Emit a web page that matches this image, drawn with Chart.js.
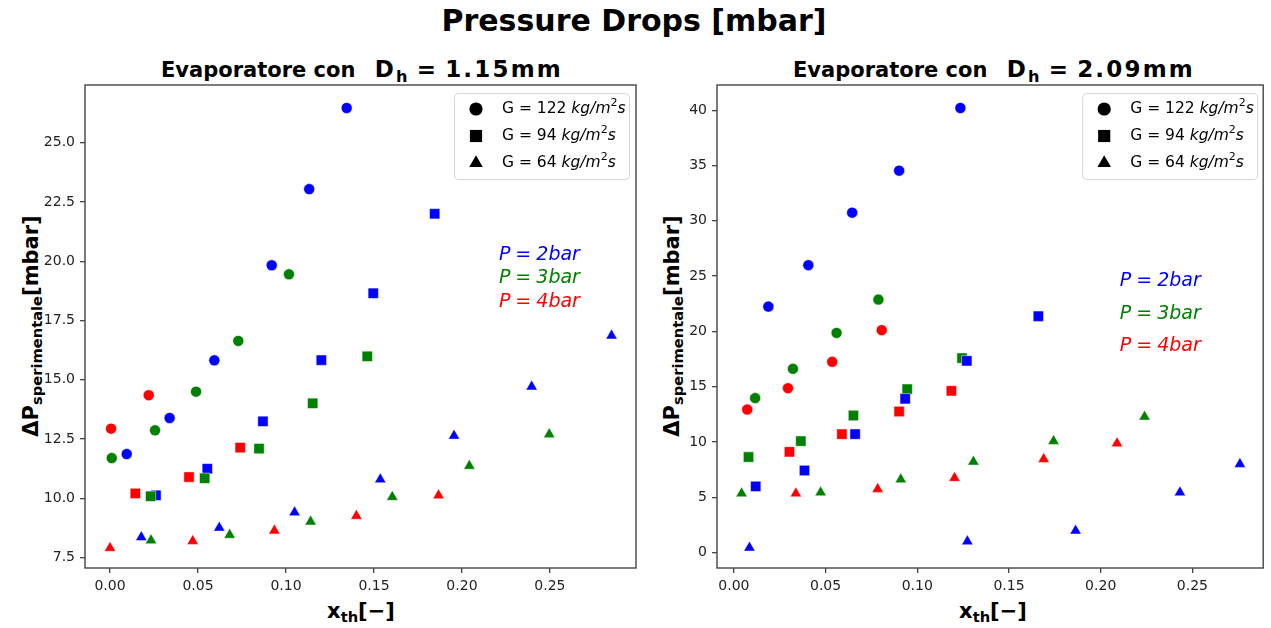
<!DOCTYPE html>
<html>
<head>
<meta charset="utf-8">
<script src="https://cdn.jsdelivr.net/npm/chart.js@4.4.1/dist/chart.umd.min.js"></script>
<style>
  html, body { margin: 0; padding: 0; background: #fff; }
  body { width: 1271px; height: 628px; position: relative; overflow: hidden;
         font-family: "DejaVu Sans", sans-serif; color: #000; }
  .txt { position: absolute; white-space: nowrap; line-height: 1; font-weight: bold;
         transform: translate(-50%, -50%); }
  .rot { transform: translate(-50%, -50%) rotate(-90deg); }
  .sb { font-size: 0.7em; position: relative; top: 0.28em; }
  .box { position: absolute; top: 0; height: 628px; }
  #suptitle { font-size: 30px; left: 634px; top: 21px; }
  .subtitle { font-size: 21px; top: 69px; }
  .math { font-size: 23px; letter-spacing: 2.2px; margin-left: 12px; }
  .eq { margin: 0 7px; }
  .axlabel { font-size: 21px; }
</style>
</head>
<body>
<div id="suptitle" class="txt">Pressure Drops [mbar]</div>
<div class="txt subtitle" style="left:362px">Evaporatore con <span class="math">D<span class="sb">h</span><span class="eq">=</span>1.15mm</span></div>
<div class="txt subtitle" style="left:994px">Evaporatore con <span class="math">D<span class="sb">h</span><span class="eq">=</span>2.09mm</span></div>
<div class="txt axlabel" style="left:361px;top:611px">x<span class="sb">th</span>[−]</div>
<div class="txt axlabel" style="left:993px;top:611px">x<span class="sb">th</span>[−]</div>
<div class="txt axlabel rot" style="left:31px;top:326px">ΔP<span class="sb">sperimentale</span>[mbar]</div>
<div class="txt axlabel rot" style="left:672px;top:326px">ΔP<span class="sb">sperimentale</span>[mbar]</div>

<div class="box" style="left:0;width:650px"><canvas id="left" width="650" height="628"></canvas></div>
<div class="box" style="left:650px;width:621px"><canvas id="right" width="621" height="628"></canvas></div>

<script>
// Pressure levels and mass fluxes
const pressures = [2, 3, 4];              // bar
const pressureColors = ['#0000ff', '#008000', '#ff0000'];
const massFluxes = [122, 94, 64];         // kg/m^2 s
const markerStyles = ['circle', 'rect', 'triangle'];
const markerRadius = [5.5, 7.3, 6.6];
const legendMarkerRadius = [6.6, 8.6, 7.8];

// Tick labels
const xTicks = [0, 0.05, 0.10, 0.15, 0.20, 0.25];
const yTicksA = [7.5, 10, 12.5, 15, 17.5, 20, 22.5, 25];
const yTicksB = [0, 5, 10, 15, 20, 25, 30, 35, 40];

// Evaporatore Dh = 1.15 mm : [x_th, dP mbar]
const a_p2_g122 = [[0.0095,11.87],[0.0339,13.39],[0.0593,15.82],[0.0919,19.83],[0.1132,23.04],[0.1345,26.46]];
const a_p3_g122 = [[0.0010,11.70],[0.0256,12.87],[0.0489,14.50],[0.0729,16.64],[0.1017,19.45]];
const a_p4_g122 = [[0.0006,12.94],[0.0220,14.35]];
const a_p2_g94  = [[0.0261,10.13],[0.0553,11.25],[0.0869,13.25],[0.1201,15.83],[0.1496,18.65],[0.1845,22.00]];
const a_p3_g94  = [[0.0231,10.09],[0.0538,10.85],[0.0847,12.10],[0.1152,14.01],[0.1462,15.99]];
const a_p4_g94  = [[0.0144,10.21],[0.0449,10.90],[0.0740,12.14]];
const a_p2_g64  = [[0.0178,8.36],[0.0621,8.76],[0.1049,9.41],[0.1536,10.80],[0.1955,12.64],[0.2396,14.71],[0.2850,16.86]];
const a_p3_g64  = [[0.0233,8.23],[0.0680,8.46],[0.1140,9.02],[0.1604,10.06],[0.2042,11.37],[0.2496,12.70]];
const a_p4_g64  = [[0.0000,7.91],[0.0470,8.20],[0.0934,8.64],[0.1400,9.26],[0.1867,10.13]];

// Evaporatore Dh = 2.09 mm : [x_th, dP mbar]
const b_p2_g122 = [[0.0188,22.24],[0.0406,25.99],[0.0645,30.74],[0.0901,34.54],[0.1235,40.21]];
const b_p3_g122 = [[0.0116,13.96],[0.0322,16.61],[0.0560,19.86],[0.0788,22.88]];
const b_p4_g122 = [[0.0073,12.93],[0.0295,14.86],[0.0536,17.24],[0.0806,20.11]];
const b_p2_g94  = [[0.0119,5.97],[0.0385,7.41],[0.0661,10.70],[0.0934,13.90],[0.1270,17.33],[0.1660,21.37]];
const b_p3_g94  = [[0.0080,8.63],[0.0365,10.07],[0.0652,12.39],[0.0945,14.77],[0.1244,17.58]];
const b_p4_g94  = [[0.0303,9.10],[0.0589,10.70],[0.0901,12.75],[0.1186,14.62]];
const b_p2_g64  = [[0.0085,0.42],[0.1273,0.99],[0.1863,1.96],[0.2432,5.42],[0.2759,7.99]];
const b_p3_g64  = [[0.0042,5.33],[0.0473,5.42],[0.0910,6.60],[0.1306,8.20],[0.1743,10.07],[0.2239,12.27]];
const b_p4_g64  = [[0.0338,5.33],[0.0784,5.73],[0.1203,6.73],[0.1689,8.44],[0.2089,9.86]];

const FONT = '"DejaVu Sans", sans-serif';

// series grid: rows = pressure, columns = mass flux
function buildDatasets(grid, pressureOrder) {
  const out = [];
  grid.forEach((row, pi) => {
    row.forEach((pts, gi) => {
      out.push({
        label: 'P=' + pressures[pi] + ' G=' + massFluxes[gi],
        data: pts.map(p => ({ x: p[0], y: p[1] })),
        pointStyle: markerStyles[gi],
        pointRadius: markerRadius[gi],
        backgroundColor: pressureColors[pi],
        borderColor: '#ffffff',
        borderWidth: 0.5,
        showLine: false,
        order: pressureOrder[pi]
      });
    });
  });
  return out;
}

function drawRuns(ctx, runs, x, y) {
  let cx = x;
  for (const r of runs) {
    ctx.font = r.font;
    cx += r.pre || 0;
    ctx.fillText(r.text, cx, y + (r.dy || 0));
    cx += ctx.measureText(r.text).width + (r.post || 0);
  }
}

// Axes frame (all four spines)
const framePlugin = {
  id: 'frame',
  afterDatasetsDraw(chart) {
    const { ctx, chartArea: a } = chart;
    ctx.save();
    ctx.strokeStyle = '#444';
    ctx.lineWidth = 1.4;
    ctx.strokeRect(a.left, a.top, a.right - a.left, a.bottom - a.top);
    ctx.restore();
  }
};

// Marker legend for the mass fluxes
const gLegendPlugin = {
  id: 'gLegend',
  afterDraw(chart, args, opts) {
    const { ctx, chartArea: a } = chart;
    const w = 175, h = 86;
    const x0 = a.right - opts.inset - w, y0 = a.top + 8;
    ctx.save();
    ctx.beginPath();
    ctx.roundRect(x0 + 0.5, y0 + 0.5, w, h, 4);
    ctx.fillStyle = 'rgba(255,255,255,0.85)';
    ctx.fill();
    ctx.strokeStyle = '#d6d6d6';
    ctx.lineWidth = 1;
    ctx.stroke();
    massFluxes.forEach((g, i) => {
      const cy = y0 + 16 + i * 27;
      ctx.fillStyle = '#000';
      Chart.helpers.drawPoint(ctx, { pointStyle: markerStyles[i], radius: legendMarkerRadius[i], borderWidth: 0, rotation: 0 }, x0 + 22, cy);
      ctx.textBaseline = 'middle';
      ctx.textAlign = 'left';
      drawRuns(ctx, [
        { text: 'G = ' + g + ' ', font: '15.5px ' + FONT },
        { text: 'kg/m', font: 'italic 15.5px ' + FONT },
        { text: '2', font: '11px ' + FONT, dy: -6 },
        { text: 's', font: 'italic 15.5px ' + FONT }
      ], x0 + 48, cy);
    });
    ctx.restore();
  }
};

// Pressure labels placed in data coordinates
const pLabelPlugin = {
  id: 'pLabels',
  afterDraw(chart, args, opts) {
    const { ctx, scales } = chart;
    ctx.save();
    ctx.textBaseline = 'middle';
    ctx.textAlign = 'left';
    opts.items.forEach((it, i) => {
      ctx.fillStyle = pressureColors[i];
      const px = scales.x.getPixelForValue(it.x);
      const py = scales.y.getPixelForValue(it.y);
      drawRuns(ctx, [
        { text: 'P', font: 'italic 19px ' + FONT },
        { text: '=', font: '19px ' + FONT, pre: 5, post: 5 },
        { text: pressures[i] + 'bar', font: 'italic 19px ' + FONT }
      ], px, py);
    });
    ctx.restore();
  }
};

function makeChart(id, grid, cfg) {
  return new Chart(document.getElementById(id), {
    type: 'scatter',
    data: { datasets: buildDatasets(grid, cfg.order) },
    plugins: [framePlugin, gLegendPlugin, pLabelPlugin],
    options: {
      responsive: false,
      animation: false,
      events: [],
      layout: { padding: { left: 0, top: 85, right: cfg.padRight, bottom: 0 } },
      plugins: {
        legend: { display: false },
        tooltip: { enabled: false },
        gLegend: { inset: cfg.legendInset },
        pLabels: { items: cfg.labels }
      },
      scales: {
        x: {
          type: 'linear',
          min: cfg.xMin, max: cfg.xMax,
          afterFit: s => { s.height = 60; },
          afterBuildTicks: s => { s.ticks = xTicks.map(v => ({ value: v })); },
          grid: { display: true, drawOnChartArea: false, drawTicks: true, tickLength: 5, color: '#444', lineWidth: 1.3 },
          border: { display: false },
          ticks: { autoSkip: false, maxRotation: 0, padding: 5, color: '#222',
                   font: { family: FONT, size: 14 }, callback: v => Number(v).toFixed(2) }
        },
        y: {
          type: 'linear',
          min: cfg.yMin, max: cfg.yMax,
          afterFit: s => { s.width = cfg.yWidth; },
          afterBuildTicks: s => { s.ticks = cfg.yTicks.map(v => ({ value: v })); },
          grid: { display: true, drawOnChartArea: false, drawTicks: true, tickLength: 5, color: '#444', lineWidth: 1.3 },
          border: { display: false },
          ticks: { autoSkip: false, padding: 5, color: '#222',
                   font: { family: FONT, size: 14 }, callback: v => Number(v).toFixed(cfg.yDigits) }
        }
      }
    }
  });
}

makeChart('left', [
  [a_p2_g122, a_p2_g94, a_p2_g64],
  [a_p3_g122, a_p3_g94, a_p3_g64],
  [a_p4_g122, a_p4_g94, a_p4_g64]
], {
  xMin: -0.0142, xMax: 0.2989, yMin: 7.066, yMax: 27.43,
  yTicks: yTicksA, yDigits: 1, yWidth: 85, padRight: 14, legendInset: 7,
  order: [2, 1, 0],
  labels: [{ x: 0.221, y: 20.26 }, { x: 0.221, y: 19.29 }, { x: 0.221, y: 18.28 }]
});

makeChart('right', [
  [b_p2_g122, b_p2_g94, b_p2_g64],
  [b_p3_g122, b_p3_g94, b_p3_g64],
  [b_p4_g122, b_p4_g94, b_p4_g64]
], {
  xMin: -0.0092, xMax: 0.2886, yMin: -1.41, yMax: 42.29,
  yTicks: yTicksB, yDigits: 0, yWidth: 67, padRight: 4, legendInset: 6,
  order: [0, 1, 2],
  labels: [{ x: 0.2104, y: 24.57 }, { x: 0.2104, y: 21.58 }, { x: 0.2104, y: 18.63 }]
});
</script>
</body>
</html>
